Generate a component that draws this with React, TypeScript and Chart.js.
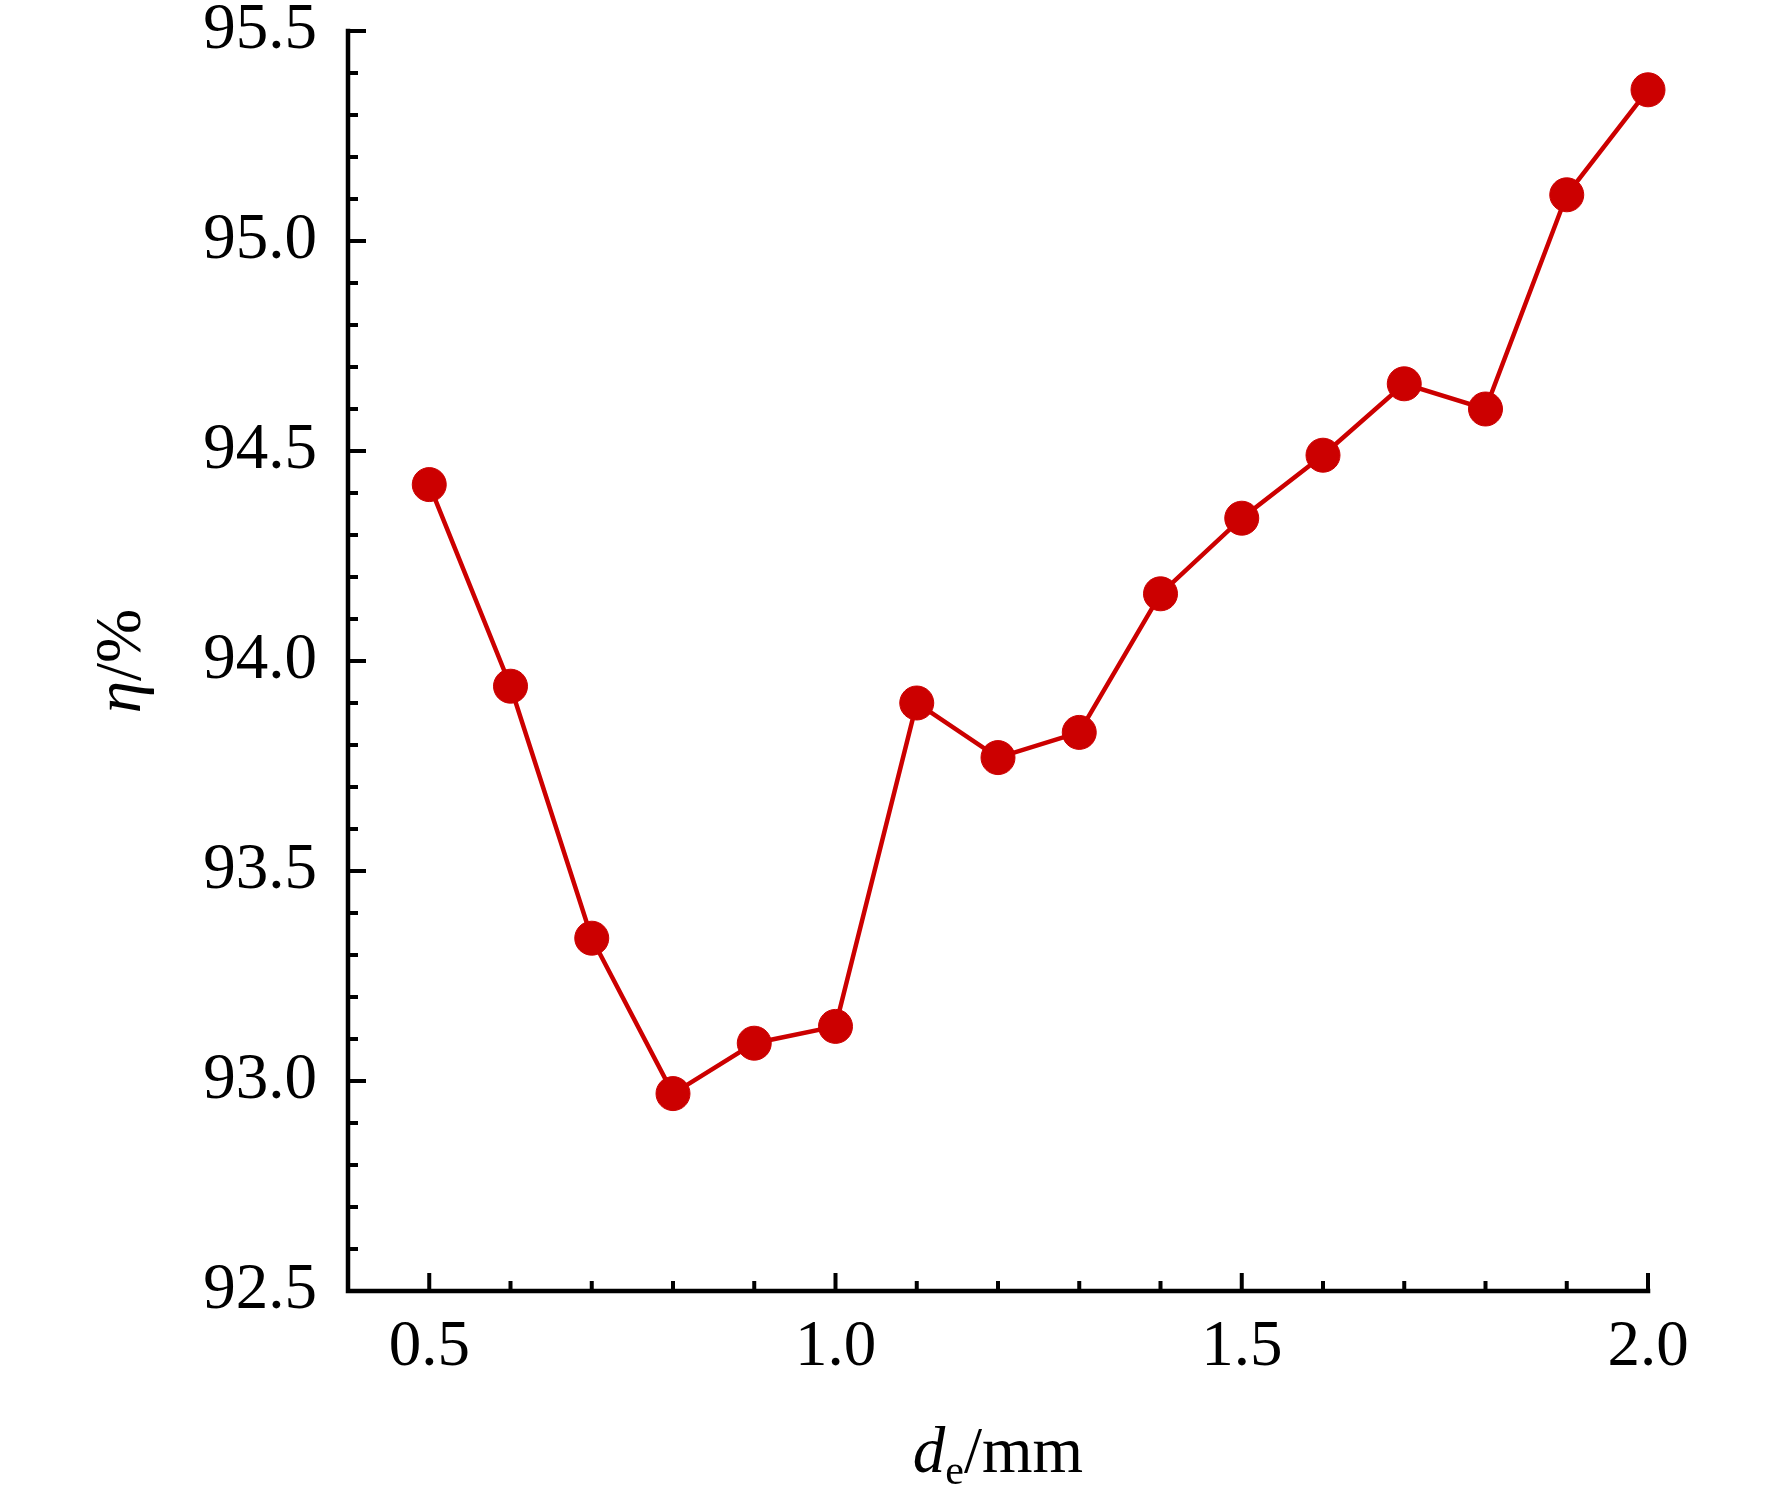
import React, { useEffect, useRef } from 'react';
import { Chart, registerables } from 'chart.js';

Chart.register(...registerables);

// electrode diameter d_e (mm) and efficiency eta (%)
const diameters = [0.5, 0.6, 0.7, 0.8, 0.9, 1.0, 1.1, 1.2, 1.3, 1.4, 1.5, 1.6, 1.7, 1.8, 1.9, 2.0];
const efficiency = [94.42, 93.94, 93.34, 92.97, 93.09, 93.13, 93.9, 93.77, 93.83, 94.16, 94.34, 94.49, 94.66, 94.6, 95.11, 95.36];

const xTickLabels = [0.5, 1.0, 1.5, 2.0];
const yTickLabels = [92.5, 93.0, 93.5, 94.0, 94.5, 95.0, 95.5];

const FONT = "'Liberation Serif', 'Times New Roman', serif";
const RED = '#cc0000';
const SIZE = 65;

// invisible tick marks: they only hold the gap between axis and labels
const hiddenGrid = {
    display: true,
    drawOnChartArea: false,
    drawTicks: true,
    color: 'rgba(0,0,0,0)',
};

// axes with inward ticks, and the mixed-style axis titles
const axesPlugin = {
    id: 'inwardAxes',
    afterDraw(chart: any) {
        const { ctx, chartArea, scales } = chart;
        const { left, right, top, bottom } = chartArea;
        const x = scales.x;
        const y = scales.y;

        ctx.save();
        ctx.strokeStyle = '#000';
        ctx.lineWidth = 4.5;
        ctx.lineCap = 'square';
        ctx.beginPath();
        ctx.moveTo(left, top);
        ctx.lineTo(left, bottom);
        ctx.lineTo(right, bottom);
        ctx.stroke();

        ctx.lineCap = 'butt';
        ctx.lineWidth = 4;
        ctx.beginPath();
        // y: minor every 0.1, major every 0.5
        for (let i = 0; i <= 30; i++) {
            const py = y.getPixelForValue(92.5 + i * 0.1);
            const len = i % 5 === 0 ? 18 : 10;
            ctx.moveTo(left, py);
            ctx.lineTo(left + len, py);
        }
        // x: minor every 0.1 from 0.5, major every 0.5
        for (let i = 0; i <= 15; i++) {
            const px = x.getPixelForValue(0.5 + i * 0.1);
            const len = i % 5 === 0 ? 18 : 10;
            ctx.moveTo(px, bottom);
            ctx.lineTo(px, bottom - len);
        }
        ctx.stroke();

        ctx.fillStyle = '#000';
        ctx.textBaseline = 'alphabetic';
        ctx.textAlign = 'left';

        const italic = `italic ${SIZE}px ${FONT}`;
        const upright = `${SIZE}px ${FONT}`;
        const small = `42px ${FONT}`;

        // x title: d_e/mm
        ctx.font = italic;
        const wd = ctx.measureText('d').width;
        ctx.font = small;
        const we = ctx.measureText('e').width;
        ctx.font = upright;
        const wmm = ctx.measureText('/mm').width;
        const cx = (left + right) / 2;
        let tx = cx - (wd + we + wmm) / 2;
        const baseX = 1472;
        ctx.font = italic;
        ctx.fillText('d', tx, baseX);
        tx += wd;
        ctx.font = small;
        ctx.fillText('e', tx, baseX + 12);
        tx += we;
        ctx.font = upright;
        ctx.fillText('/mm', tx, baseX);

        // y title: eta/%
        ctx.save();
        ctx.translate(140, (top + bottom) / 2);
        ctx.rotate(-Math.PI / 2);
        ctx.font = italic;
        const weta = ctx.measureText('η').width;
        ctx.font = upright;
        const wpct = ctx.measureText('/%').width;
        let ty = -(weta + wpct) / 2;
        ctx.font = italic;
        ctx.fillText('η', ty, 0);
        ty += weta;
        ctx.font = upright;
        ctx.fillText('/%', ty, 0);
        ctx.restore();

        ctx.restore();
    },
};

const EfficiencyChart: React.FC = () => {
    const canvasRef = useRef<HTMLCanvasElement>(null);

    useEffect(() => {
        if (!canvasRef.current) return;
        const chart = new Chart(canvasRef.current, {
            type: 'line',
            data: {
                datasets: [
                    {
                        data: diameters.map((d, i) => ({ x: d, y: efficiency[i] })),
                        borderColor: RED,
                        backgroundColor: RED,
                        borderWidth: 4.5,
                        pointRadius: 17,
                        pointBorderWidth: 1,
                        pointBackgroundColor: RED,
                        pointBorderColor: RED,
                        tension: 0,
                        clip: false,
                    } as any,
                ],
            },
            options: {
                animation: false,
                responsive: false,
                devicePixelRatio: 1,
                events: [],
                layout: { padding: { left: 0, top: 31, right: 124, bottom: 0 } },
                plugins: { legend: { display: false }, tooltip: { enabled: false } },
                scales: {
                    x: {
                        type: 'linear',
                        min: 0.4,
                        max: 2.0,
                        grid: { ...hiddenGrid, tickLength: 18 },
                        border: { display: false },
                        afterBuildTicks: (axis: any) => {
                            axis.ticks = xTickLabels.map((value) => ({ value }));
                        },
                        afterFit: (axis: any) => {
                            axis.height = 214;
                        },
                        ticks: {
                            padding: 0,
                            maxRotation: 0,
                            autoSkip: false,
                            color: '#000',
                            font: { family: FONT, size: SIZE, lineHeight: 1.2 },
                            callback: (v: any) => Number(v).toFixed(1),
                        },
                    },
                    y: {
                        type: 'linear',
                        min: 92.5,
                        max: 95.5,
                        grid: { ...hiddenGrid, tickLength: 31 },
                        border: { display: false },
                        afterBuildTicks: (axis: any) => {
                            axis.ticks = yTickLabels.map((value) => ({ value }));
                        },
                        afterFit: (axis: any) => {
                            axis.width = 348;
                        },
                        ticks: {
                            padding: 0,
                            color: '#000',
                            font: { family: FONT, size: SIZE, lineHeight: 0.8 },
                            callback: (v: any) => Number(v).toFixed(1),
                        },
                    },
                },
            },
            plugins: [axesPlugin],
        });
        return () => chart.destroy();
    }, []);

    return <canvas ref={canvasRef} width={1772} height={1505} style={{ width: 1772, height: 1505, display: 'block' }} />;
};

export default function App() {
    return (
        <div style={{ position: 'absolute', left: 0, top: 0, width: 1772, height: 1505, background: '#fff' }}>
            <EfficiencyChart />
        </div>
    );
}
